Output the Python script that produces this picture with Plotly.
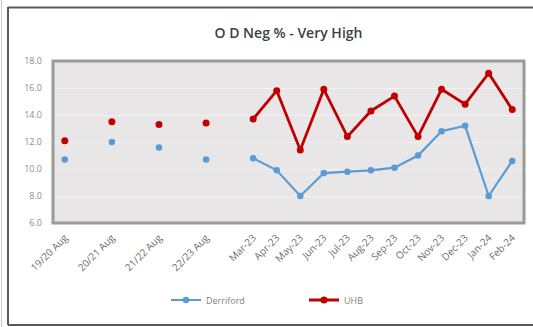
import plotly.graph_objects as go

# 20 category slots; blank slots separate the yearly points
categories = ["19/20 Aug", "", "20/21 Aug", "", "21/22 Aug", "", "22/23 Aug", "",
              "Mar-23", "Apr-23", "May-23", "Jun-23", "Jul-23", "Aug-23", "Sep-23",
              "Oct-23", "Nov-23", "Dec-23", "Jan-24", "Feb-24"]
derriford = [10.7, None, 12.0, None, 11.6, None, 10.7, None,
             10.8, 9.9, 8.0, 9.7, 9.8, 9.9, 10.1, 11.0, 12.8, 13.2, 8.0, 10.6]
uhb = [12.1, None, 13.5, None, 13.3, None, 13.4, None,
       13.7, 15.8, 11.4, 15.9, 12.4, 14.3, 15.4, 12.4, 15.9, 14.8, 17.1, 14.4]

xpos = list(range(len(categories)))
blue = "#5b9bd5"
red = "#c00000"

fig = go.Figure()
fig.add_trace(go.Scatter(x=xpos, y=derriford, name="Derriford", mode="lines+markers",
                         line=dict(color=blue, width=2.2), marker=dict(color=blue, size=6.5),
                         connectgaps=False))
fig.add_trace(go.Scatter(x=xpos, y=uhb, name="UHB", mode="lines+markers",
                         line=dict(color=red, width=2.8), marker=dict(color=red, size=7),
                         connectgaps=False))

L, R, T, B = 53, 9, 61, 104
W, H = 533, 327
pw = W - L - R
ph = H - T - B
def px(x):
    return (x - L) / pw
def py(y):
    return (H - B - y) / ph

frame = "#5a5a5a"
shapes = [
    # plot area border
    dict(type="rect", xref="paper", yref="paper", x0=0, x1=1, y0=0, y1=1,
         line=dict(color="#9a9a9a", width=3), layer="above"),
    # outer chart frame
    dict(type="line", xref="paper", yref="paper", x0=px(8), x1=px(540), y0=py(7.5), y1=py(7.5),
         line=dict(color=frame, width=2)),
    dict(type="line", xref="paper", yref="paper", x0=px(8), x1=px(8), y0=py(7), y1=py(325),
         line=dict(color=frame, width=2)),
    dict(type="line", xref="paper", yref="paper", x0=px(8), x1=px(540), y0=py(325), y1=py(325),
         line=dict(color=frame, width=2)),
    dict(type="line", xref="paper", yref="paper", x0=px(1.5), x1=px(1.5), y0=py(0), y1=py(327),
         line=dict(color="#c8c8c8", width=1)),
]

fig.update_layout(
    width=W, height=H,
    margin=dict(l=L, r=R, t=T, b=B, autoexpand=False),
    paper_bgcolor="white",
    plot_bgcolor="#e8e6e6",
    font=dict(family="Open Sans, Arial, sans-serif", color="#7f7f7f", size=9),
    title=dict(text="O D Neg % - Very High", x=0.5, xref="paper", y=1 - 33 / H, yanchor="middle",
               font=dict(size=14, color="#404040", weight=600,
                         family="Open Sans, Arial, sans-serif")),
    showlegend=True,
    legend=dict(orientation="h", x=px(166), xanchor="left", y=py(300), yanchor="middle",
                font=dict(size=9, color="#7f7f7f"), itemwidth=30, tracegroupgap=0,
                entrywidth=93),
    xaxis=dict(range=[-0.5, len(categories) - 0.5], tickmode="array", tickvals=xpos,
               ticktext=categories, tickangle=-45, showgrid=False, zeroline=False,
               showline=False, ticks="", automargin=False, ticklabelstandoff=6,
               tickfont=dict(size=10, color="#6e6e6e")),
    yaxis=dict(range=[6, 18], dtick=2, tick0=6, tickformat=".1f", showgrid=True,
               gridcolor="#f3f1f1", gridwidth=1, zeroline=False, showline=False,
               ticks="", ticklabelstandoff=10, automargin=False,
               tickfont=dict(size=9, color="#8c8c8c")),
    shapes=shapes,
)

fig.write_html("out.html", config={"displayModeBar": False},
               post_script="document.body.style.margin='0px';document.body.style.overflow='hidden';")
